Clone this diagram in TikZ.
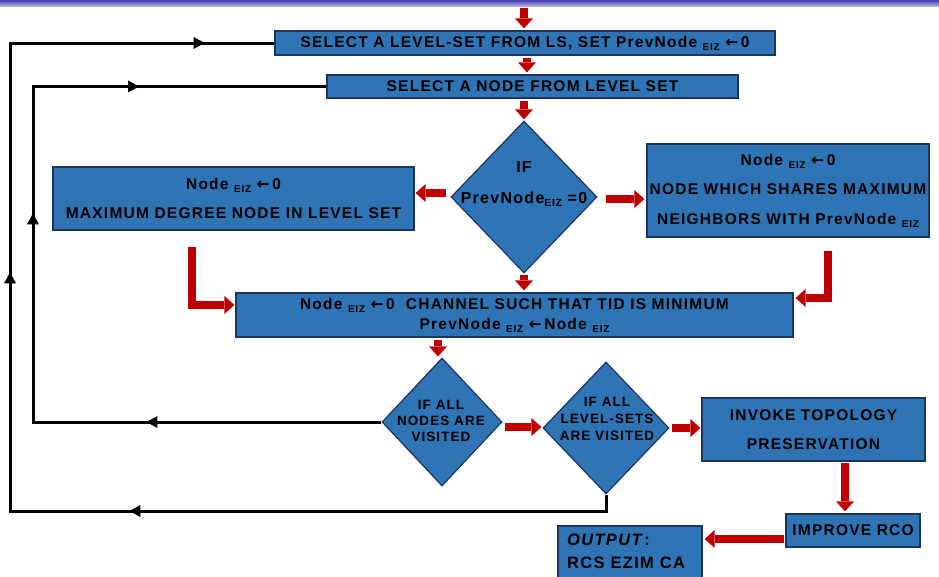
\documentclass[tikz,border=0pt]{standalone}
\usepackage{fontspec}
\setmainfont{Liberation Sans}
\newfontfamily\spc[LetterSpace=8]{Liberation Sans}
\newfontfamily\djv{DejaVu Sans}
\usetikzlibrary{shapes.geometric,arrows.meta,decorations.markings,calc}
\definecolor{boxblue}{RGB}{47,117,182}
\definecolor{boxline}{RGB}{28,52,98}
\definecolor{arrred}{RGB}{192,0,0}
\definecolor{bandtop}{RGB}{60,60,170}
\definecolor{bandbot}{RGB}{175,175,225}
\newcommand\eiz{\raisebox{-0.2em}{\scalebox{0.64}{EIZ}}}
\newcommand\larr{{\djv ←}}
\begin{document}
\begin{tikzpicture}[x=1pt,y=-1pt,
  box/.style={draw=boxline, fill=boxblue, line width=1.2pt, inner sep=0pt, align=center, text=black},
  dia/.style={diamond, draw=boxline, fill=boxblue, line width=1.2pt, inner sep=0pt},
  dtext/.style={align=center, inner sep=0pt, text=black},
  redarr/.style={draw=arrred, line width=8pt, line join=miter, -{Triangle[length=10pt,width=18pt,line width=0pt]}},
  loopline/.style={draw=black, line width=3pt, line join=miter},
  mytip/.tip={Triangle[length=11pt,width=12pt,line width=0pt]}
]
\useasboundingbox (0,0) rectangle (939,576);
\fill[white] (0,0) rectangle (939,576);
\shade[top color=bandtop, bottom color=bandbot] (0,0) rectangle (939,6);

% boxes
\node[box, minimum width=500pt, minimum height=24pt,
  font=\spc\bfseries\fontsize{15.5}{18}\selectfont] (b1) at (525,43)
  {SELECT A LEVEL-SET FROM LS, SET PrevNode \eiz\ \larr\,0};
\node[box, minimum width=411pt, minimum height=23pt,
  font=\spc\bfseries\fontsize{15.5}{18}\selectfont] (b2) at (532.5,86.5)
  {SELECT A NODE FROM LEVEL SET};
\node[dia, minimum width=146pt, minimum height=152pt] (d1) at (524,197) {};
\node[dtext, font=\spc\bfseries\fontsize{16}{31}\selectfont] (d1t) at (524,184)
  {IF\\PrevNode\eiz{} =0};
\node[box, minimum width=361pt, minimum height=63pt,
  font=\spc\bfseries\fontsize{15.5}{29}\selectfont] (bl) at (233.5,198.5)
  {Node \eiz\ \larr\,0\\MAXIMUM DEGREE NODE IN LEVEL SET};
\node[box, minimum width=282pt, minimum height=93pt,
  font=\spc\bfseries\fontsize{15.5}{29.5}\selectfont] (br) at (788,190.5)
  {Node \eiz\ \larr\,0\\NODE WHICH SHARES MAXIMUM\\NEIGHBORS WITH PrevNode \eiz};
\node[box, minimum width=557pt, minimum height=44pt,
  font=\spc\bfseries\fontsize{15.5}{20}\selectfont] (bm) at (514.5,315)
  {Node \eiz\ \larr\,0\ \ CHANNEL SUCH THAT TID IS MINIMUM\\PrevNode \eiz\ \larr\,Node \eiz};
\node[dia, minimum width=120pt, minimum height=128pt] (d2) at (442,422) {};
\node[dtext, font=\spc\bfseries\fontsize{13.5}{16}\selectfont] (d2t) at (441,421)
  {IF ALL\\NODES ARE\\VISITED};
\node[dia, minimum width=126pt, minimum height=132pt] (d3) at (606,428) {};
\node[dtext, font=\spc\bfseries\fontsize{13.5}{17}\selectfont] (d3t) at (607,419)
  {IF ALL\\LEVEL-SETS\\ARE VISITED};
\node[box, minimum width=223pt, minimum height=63pt,
  font=\spc\bfseries\fontsize{15.5}{29}\selectfont] (inv) at (813.5,429.5)
  {INVOKE TOPOLOGY\\PRESERVATION};
\node[box, minimum width=134pt, minimum height=33pt,
  font=\spc\bfseries\fontsize{15.5}{18}\selectfont] (imp) at (853,530.5)
  {IMPROVE RCO};
\node[box, minimum width=144pt, minimum height=66pt] (out) at (630,559) {};
\node[anchor=north west, align=left, inner sep=0pt, text=black,
  font=\spc\bfseries\fontsize{16.5}{23}\selectfont] (outt) at (567,534)
  {\itshape OUTPUT\upshape\,:\\RCS EZIM CA};

% red block arrows
\coordinate (start) at (524,8);
\draw[redarr] (start) -- ($(start |- b1.north)+(0,-2)$);
\coordinate (a1) at ($(b1.south)+(2,2)$);
\draw[redarr] (a1) -- ($(a1 |- b2.north)+(0,-2)$);
\coordinate (a2) at ($(b2.south)+(-8.5,2)$);
\draw[redarr] (a2) -- ($(d1.north)+(0,-1)$);
\coordinate (a3) at ($(d1.west)+(-4,-4)$);
\draw[redarr] (a3) -- ($(a3 -| bl.east)+(1,0)$);
\coordinate (a4) at ($(d1.east)+(8,2)$);
\draw[redarr] (a4) -- ($(a4 -| br.west)+(-2,0)$);
\coordinate (a5) at ($(d1.south)+(0,1)$);
\draw[redarr] (a5) -- ($(d1.south |- bm.north)+(0,-2)$);
\draw[redarr] ($(bl.south)+(-41.5,16)$) |- ($(bm.west)+(-1,-10)$);
\draw[redarr] ($(br.south)+(40,13)$) |- ($(bm.east)+(2,-17)$);
\coordinate (a6) at ($(bm.south)+(-76.5,2)$);
\draw[redarr] (a6) -- ($(a6 |- d2.north)+(0,-1)$);
\coordinate (a7) at ($(d2.east)+(2,5)$);
\draw[redarr] (a7) -- ($(a7 -| d3.west)+(-1,0)$);
\coordinate (a8) at ($(d3.east)+(2,0)$);
\draw[redarr] (a8) -- ($(a8 -| inv.west)+(-1,0)$);
\coordinate (a9) at ($(inv.south)+(31.5,1)$);
\draw[redarr] (a9) -- ($(a9 |- imp.north)+(0,-2)$);
\coordinate (a10) at ($(imp.west)+(-1,8.5)$);
\draw[redarr] (a10) -- ($(a10 -| out.east)+(2,0)$);

% black loop connectors
\draw[loopline, postaction={decorate}, decoration={markings,
    mark=at position 493pt with {\arrow{mytip}},
    mark=at position 851pt with {\arrow{mytip}},
    mark=at position 1275pt with {\arrow{mytip}}}]
  (d3.south) -- (d3.south |- 0,511) -- (10,511) -- (10,43) -- (b1.west);
\draw[loopline, postaction={decorate}, decoration={markings,
    mark=at position 235pt with {\arrow{mytip}},
    mark=at position 557pt with {\arrow{mytip}},
    mark=at position 790pt with {\arrow{mytip}}}]
  (d2.west) -- (33,422) -- (33,86.5) -- (b2.west);
\end{tikzpicture}
\end{document}
